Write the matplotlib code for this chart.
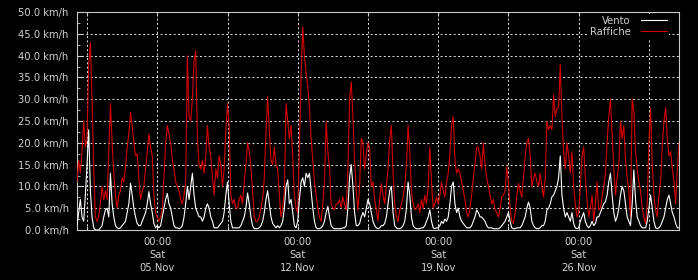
import matplotlib
matplotlib.use("Agg")
import matplotlib.pyplot as plt
import matplotlib.dates as mdates
import matplotlib.ticker as mticker
import pandas as pd

# wind speed (km/h), one value every 2 hours from 01.Nov 00:00
vento = [
    1, 4, 7, 3, 2, 8, 15, 23, 9, 3, 0.5, 0,
    0, 0, 0.5, 1, 3, 4.6, 5, 3, 13, 6, 3, 1,
    0.5, 0.3, 0.5, 1, 1.5, 2, 4, 6, 10.7, 8, 5, 3,
    1.5, 1, 1, 2, 3, 4, 6, 8.8, 6, 4, 1.5, 0.5,
    1, 0.5, 1, 3, 5, 7, 8.4, 6, 5, 3, 1, 0.5,
    0.5, 0.3, 0.5, 1, 3, 6, 10, 7, 10, 13, 8, 5,
    4, 3, 3, 2, 3, 5, 6, 5, 3, 2, 0.5, 0.5,
    0.5, 1, 1.5, 2, 4, 8, 11, 6, 2, 0.5, 0.5, 0.5,
    0.5, 0.5, 1, 2, 3, 5, 8.5, 6, 3, 1, 0.3, 0.3,
    0.3, 0.5, 1, 2, 4, 7, 9, 6, 3, 1.5, 1, 0.5,
    1, 0.5, 1, 2, 5, 10, 11.5, 6, 7, 4, 1, 0.5,
    2, 7, 11, 12, 10, 13, 12, 13, 9, 5, 2, 0.5,
    0.3, 0.3, 0.5, 1, 2, 4, 5.4, 3, 1, 0.5, 0.3, 0.3,
    0.3, 0.3, 0.3, 0.5, 0.5, 1, 5, 12, 15, 10, 4, 1,
    1, 1.5, 3, 4, 3, 5, 7, 6, 4, 2, 1, 0.5,
    0.3, 0.5, 1, 1, 1.5, 3, 6, 9, 10, 4, 1, 0.5,
    0.3, 0.3, 0.5, 1, 2, 5, 11, 8, 3, 1, 0.5, 0.3,
    0.3, 0.3, 0.5, 0.5, 1, 2, 3, 4.6, 2, 0.5, 0.3, 0.5,
    0.5, 1, 2, 1.5, 2.5, 2, 3, 6, 10, 11, 6, 4,
    5, 3, 2, 1.5, 1, 0.5, 0.5, 0.5, 1, 2, 3, 4.6,
    4, 3, 3, 2.5, 2, 1, 0.5, 0.5, 0.5, 0.3, 0.3, 0.3,
    0.3, 0.5, 1, 1.5, 2, 3, 4, 2, 0.5, 0.3, 0.3, 0.5,
    0.5, 0.5, 1, 2, 3, 5, 6.4, 5, 2, 1, 0.5, 0.3,
    0.3, 0.5, 1, 1, 2, 4.6, 5, 6, 7.6, 8, 9, 10,
    12, 17, 8, 5, 3, 4, 3, 2, 4, 1.5, 0.5, 0.3,
    0.5, 2, 3, 4, 2, 1, 0.5, 1, 2, 1, 1.5, 3,
    3, 4, 5, 6, 6.5, 8, 11, 13, 8, 4, 2, 3,
    5, 8, 10, 9, 6, 3, 2, 1, 6, 13.8, 7, 3,
    2, 1, 0.5, 0.5, 0.5, 2, 5, 8, 5, 2, 0.5, 0.3,
    0.5, 1, 2, 3, 5, 7, 8, 6, 4, 3, 1.5, 0.5,
    0.5,
]

# gusts (km/h)
raffiche = [
    11, 16, 13, 18, 25, 19, 21, 38, 43, 30, 14, 3,
    2, 3, 6, 10, 7, 9, 7, 18, 29, 20, 13, 8,
    5, 8, 9, 12, 11, 14.5, 19, 22, 27, 24, 20, 17,
    17.5, 12, 7, 9, 10, 14, 18, 22, 19, 17, 8, 4,
    3, 2, 3, 4.6, 12, 20, 24, 22, 20, 16, 14, 11,
    10, 9, 7, 6, 8, 11, 40, 26, 25, 30, 39, 41,
    21, 15, 14, 16, 13, 17, 24, 19, 17, 12, 8, 14,
    12, 17, 15, 10, 14, 23, 29, 24, 8, 6, 7, 5,
    5, 7, 8, 6, 11, 15, 20, 18, 14.5, 9, 3, 2,
    2, 3, 5, 7, 12, 22, 30.6, 23, 16, 15, 19, 15,
    14, 8, 3, 5, 9, 29, 25, 21, 24, 17, 8, 5,
    4, 20, 35, 46.6, 40, 36, 33, 28, 21, 16, 11, 8,
    5, 3, 2, 6, 11, 25, 18, 14.5, 6, 5, 4.6, 6,
    6, 7, 5, 7.6, 6, 4.6, 14, 30, 34, 26, 16, 9,
    4.6, 10, 21, 20, 14, 17, 20, 19, 10, 11, 7, 4.6,
    2, 7, 10.7, 8, 6, 10, 14, 21, 24, 13, 6, 3,
    2, 4.6, 6, 7.6, 10, 15, 24, 18, 9, 6, 4.6, 5,
    6, 4, 7, 5, 8, 6, 10, 19, 11, 5, 6, 7.6,
    6, 8, 11, 9, 7.6, 11, 13, 17.6, 24, 26, 16, 13,
    14, 13, 11, 9, 7, 4, 3, 5, 8, 12, 15, 19,
    19, 17, 14, 20, 15, 12, 10, 8, 6, 7, 4.6, 4,
    3, 5, 7.6, 8, 9, 14.5, 11, 5, 2, 1.5, 4, 8,
    10.7, 9, 7.6, 12, 17, 20, 21, 17, 10, 12, 13, 11,
    10, 13, 10, 7.6, 12, 25, 23, 24, 23, 31, 26, 28,
    28, 38, 26, 18, 14, 20, 17, 13, 18, 10, 6, 3,
    4, 10, 17, 19, 12, 7, 3, 5, 8, 2, 6, 11,
    4.6, 5, 7.6, 10, 13, 20, 26, 30, 22, 14, 8, 12,
    15, 25, 21, 24, 16, 12, 9, 3, 30, 27, 18, 14,
    11, 9, 5, 3, 1.5, 6, 20, 28, 15, 8, 4.6, 3,
    8, 11, 19, 25, 28, 21, 17, 18, 14, 11, 6, 14,
    20,
]

times = pd.date_range("2022-11-01 00:00", periods=len(vento), freq="2h")

txt = "#d0d0d0"
fig = plt.figure(figsize=(6.98, 2.8), dpi=100, facecolor="black")
ax = fig.add_axes([77 / 698, 50 / 280, 602 / 698, 218 / 280])
ax.set_facecolor("black")

ax.plot(times, raffiche, color="#d40000", lw=0.8, label="Raffiche", zorder=3)
ax.plot(times, vento, color="white", lw=0.8, label="Vento", zorder=4)

ax.set_ylim(0, 50)
ax.set_xlim(times[0], times[-1])

ax.yaxis.set_major_locator(mticker.MultipleLocator(5))
ax.yaxis.set_minor_locator(mticker.MultipleLocator(2.5))
ax.yaxis.set_major_formatter(mticker.FuncFormatter(lambda v, p: "%.1f km/h" % v))

grid_times = pd.date_range("2022-11-01 12:00", "2022-12-01", freq="84h")
ax.set_xticks(grid_times)


def xlab(v, p):
    d = mdates.num2date(v)
    if d.hour == 0 and d.weekday() == 5:
        return d.strftime("%H:%M\nSat\n%d.Nov")
    return ""


ax.xaxis.set_major_formatter(mticker.FuncFormatter(xlab))

ax.tick_params(axis="y", which="both", direction="in", colors=txt,
               labelsize=7.2, pad=6, right=False)
ax.tick_params(axis="y", which="major", length=4)
ax.tick_params(axis="y", which="minor", length=2)
ax.tick_params(axis="x", which="major", direction="in", colors=txt,
               labelsize=7.2, pad=5, top=True, length=3)
for lab in ax.get_xticklabels():
    lab.set_linespacing(1.35)

for s in ax.spines.values():
    s.set_color("#c8c8c8")
    s.set_linewidth(0.8)

ax.grid(True, which="major", color="#e8e8e8", linestyle=(0, (2, 2.5)), lw=0.7)
ax.set_axisbelow(True)

handles, labels = ax.get_legend_handles_labels()
leg = ax.legend(handles[::-1], labels[::-1], loc="upper right", markerfirst=False,
                bbox_to_anchor=(0.983, 0.991),
                facecolor="black", edgecolor="none", framealpha=1,
                labelcolor=txt, fontsize=7.2, handlelength=2.6,
                borderpad=0.2, borderaxespad=0, labelspacing=0.1,
                handletextpad=1.0)
leg.set_zorder(5)

fig.savefig("out.png", dpi=100, facecolor="black")
